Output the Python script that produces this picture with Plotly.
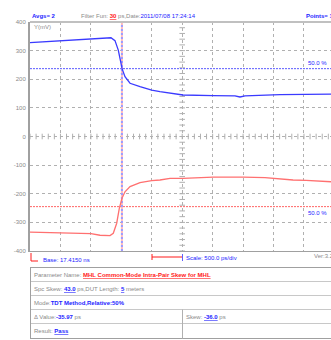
import plotly.graph_objects as go

# ---------------- data ----------------
time_blue_ps = [0, 493, 821, 1232, 1330, 1396, 1450, 1490, 1511, 1560, 1643, 1807, 1999, 2135,
                2513, 3006, 3367, 3449, 3531, 4106, 4534, 4944]
volt_blue_mv = [328, 335, 339, 343, 345, 335, 302, 261, 238, 209, 186, 174, 162, 157,
                145, 143, 142, 138, 142, 146, 147, 148]

time_red_ps = [0, 509, 1002, 1150, 1314, 1368, 1424, 1467, 1511, 1560, 1643, 1807, 1999, 2135,
               2300, 2513, 3006, 3506, 3860, 4320, 4534, 4944]
volt_red_mv = [-334, -336, -339, -345, -346, -338, -303, -251, -216, -193, -175, -161, -154, -152,
               -146, -146, -142, -142, -144, -152, -153, -158]

level_blue_mv = 237
level_red_mv = -245
marker_ps = 1510

y_ticks = [400, 300, 200, 100, 0, -100, -200, -300, -400]
x_range_ps = [0, 4944]
div_ps = 500

# ---------------- styling helpers ----------------
GRAY = "#8a8a8a"
GRID = "#b0b0b0"
BLUE = "#2424ff"
RED = "#ff1a1a"
FONT = "Liberation Sans Narrow, Arial Narrow, Liberation Sans, Arial, sans-serif"

W, H = 331, 340
PL, PR, PT, PB = 30, 331, 22, 251


def px(x):
    return (x - PL) / (PR - PL)


def py(y):
    return (PB - y) / (PB - PT)


fig = go.Figure()

# minor ticks on the centre axes
fig.add_trace(go.Scatter(
    x=[t for t in range(0, 5000, 100)], y=[0] * 50, mode="markers",
    marker=dict(symbol="line-ns", size=4, line=dict(color=GRID, width=1)),
    hoverinfo="skip", showlegend=False))
fig.add_trace(go.Scatter(
    x=[2500] * 41, y=[v for v in range(-400, 401, 20)], mode="markers",
    marker=dict(symbol="line-ew", size=4, line=dict(color=GRID, width=1)),
    hoverinfo="skip", showlegend=False))

# 50% levels
fig.add_trace(go.Scatter(x=x_range_ps, y=[level_blue_mv] * 2, mode="lines",
                         line=dict(color="#5a5aff", width=1, dash="2px,1px"),
                         hoverinfo="skip", showlegend=False))
fig.add_trace(go.Scatter(x=x_range_ps, y=[level_red_mv] * 2, mode="lines",
                         line=dict(color="#ff6464", width=1, dash="2px,1px"),
                         hoverinfo="skip", showlegend=False))

# marker (red/blue alternating dashes)
fig.add_trace(go.Scatter(x=[marker_ps] * 2, y=[-400, 400], mode="lines",
                         line=dict(color="#ffbcbc", width=2),
                         hoverinfo="skip", showlegend=False))
fig.add_trace(go.Scatter(x=[marker_ps] * 2, y=[-400, 400], mode="lines",
                         line=dict(color="#9c9cff", width=2, dash="2px,2px"),
                         hoverinfo="skip", showlegend=False))

# waveforms
fig.add_trace(go.Scatter(x=time_blue_ps, y=volt_blue_mv, mode="lines",
                         line=dict(color="#3a3aff", width=1.3), showlegend=False))
fig.add_trace(go.Scatter(x=time_red_ps, y=volt_red_mv, mode="lines",
                         line=dict(color="#ff7070", width=1.3), showlegend=False))

shapes = []
# top border
shapes.append(dict(type="line", xref="paper", yref="paper", x0=0, x1=1.05, y0=1, y1=1,
                   line=dict(color="#c0c0c0", width=2)))

# base bracket
shapes.append(dict(type="line", xref="paper", yref="paper", x0=px(31), x1=px(31), y0=py(253), y1=py(261),
                   line=dict(color=RED, width=1)))
shapes.append(dict(type="line", xref="paper", yref="paper", x0=px(31), x1=px(38), y0=py(261), y1=py(261),
                   line=dict(color=RED, width=1)))
# scale bar
shapes.append(dict(type="line", xref="paper", yref="paper", x0=px(152), x1=px(152), y0=py(254), y1=py(260),
                   line=dict(color=RED, width=1)))
shapes.append(dict(type="line", xref="paper", yref="paper", x0=px(152), x1=px(182.5), y0=py(257), y1=py(257),
                   line=dict(color=RED, width=1)))
shapes.append(dict(type="line", xref="paper", yref="paper", x0=px(182.5), x1=px(182.5), y0=py(254), y1=py(261),
                   line=dict(color="#6060ff", width=1)))

# table
row_lines = [267.5, 281.5, 295.5, 309.5, 323.5, 338.5]
for i, yl in enumerate(row_lines):
    col = "#a0a0a0" if i in (0, len(row_lines) - 1) else "#c8c8c8"
    shapes.append(dict(type="line", xref="paper", yref="paper", x0=px(30), x1=px(345), y0=py(yl), y1=py(yl),
                       line=dict(color=col, width=1)))
shapes.append(dict(type="line", xref="paper", yref="paper", x0=px(30.5), x1=px(30.5), y0=py(267.5), y1=py(338.5),
                   line=dict(color="#a0a0a0", width=1)))
shapes.append(dict(type="line", xref="paper", yref="paper", x0=px(182.5), x1=px(182.5), y0=py(309.5), y1=py(338.5),
                   line=dict(color="#b0b0b0", width=1)))

ann = []


def txt(x, y, s, size=6, color=GRAY, xanchor="left"):
    ann.append(dict(x=px(x), y=py(y), xref="paper", yref="paper", text=s, showarrow=False,
                    xanchor=xanchor, yanchor="middle", font=dict(family=FONT, size=size, color=color)))


def u(s, color=BLUE, bold=True):
    inner = f"<b>{s}</b>" if bold else s
    return f"<span style='color:{color};text-decoration:underline'>{inner}</span>"


def c(s, color=BLUE, bold=True):
    inner = f"<b>{s}</b>" if bold else s
    return f"<span style='color:{color}'>{inner}</span>"


# header
txt(30, 16, c("Avgs= 2"))
txt(79, 16, "Filter Fun: " + u("30", RED) + " ps,Date:" + c("2011/07/08 17:24:14", bold=False))
txt(304, 16, c("Points= 1000"))
txt(32, 27, "Y(mV)")

# level labels
txt(306, 63, c("50.0 %", bold=False))
txt(306, 213, c("50.0 %", bold=False))

# footer labels
txt(41, 260, c("Base: 17.4150 ns", bold=False))
txt(184, 258, c("Scale: 500.0 ps/div", bold=False))
txt(312, 256, "Ver:3.20")

# table texts
txt(32, 274.5, "Parameter Name: " + u("MHL Common-Mode Intra-Pair Skew for MHL", RED))
txt(32, 288.5, "Spc Skew: " + u("43.0") + " ps,DUT Length: " + u("5") + " meters")
txt(32, 302.5, "Mode:" + c("TDT Method,Relative:50%"))
txt(32, 316.5, "\u0394 Value:" + c("-35.97") + " ps")
txt(184, 316.5, "Skew: " + u("-36.0") + " ps")
txt(32, 330.5, "Result: " + u("Pass"))

fig.update_layout(
    width=W, height=H,
    margin=dict(l=PL, r=W - PR, t=PT, b=H - PB, pad=0),
    paper_bgcolor="white", plot_bgcolor="white",
    showlegend=False,
    shapes=shapes,
    annotations=ann,
    xaxis=dict(range=x_range_ps, dtick=div_ps, tick0=0, showticklabels=False, ticks="",
               showgrid=True, gridcolor=GRID, griddash="dot", gridwidth=1,
               zeroline=False, showline=True, linecolor="#a0a0a0", linewidth=1, fixedrange=True),
    yaxis=dict(range=[-400, 400], tickvals=y_ticks, ticktext=[str(v) for v in y_ticks],
               tickfont=dict(family=FONT, size=6, color=GRAY), ticks="", ticklabelstandoff=1,
               showgrid=True, gridcolor=GRID, griddash="dot", gridwidth=1,
               zeroline=False, showline=True, linecolor="#a0a0a0", linewidth=2, fixedrange=True),
)

fig.write_html("out.html", config={"displayModeBar": False},
               post_script="document.body.style.margin='0';document.body.style.overflow='hidden';")
